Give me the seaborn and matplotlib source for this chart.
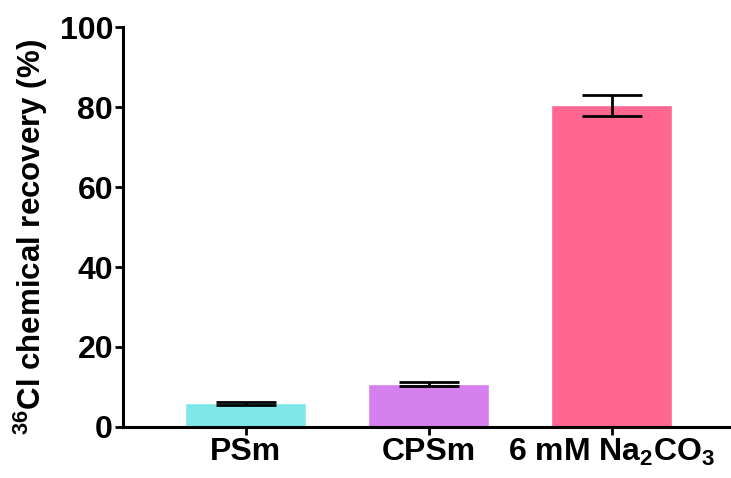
import numpy as np
import pandas as pd
import matplotlib
matplotlib.use('Agg')
import matplotlib.pyplot as plt
import seaborn as sns

categories = ['PSm', 'CPSm', r'6 mM Na$_2$CO$_3$']
recovery = [5.9, 10.75, 80.4]
err = [0.4, 0.5, 2.7]
colors = ['#7EE8E8', '#D580EE', '#FF6690']
yticks = [0, 20, 40, 60, 80, 100]

sns.set_style('ticks')
plt.rcParams['font.family'] = ['Liberation Sans', 'DejaVu Sans']
plt.rcParams['font.weight'] = 'bold'
plt.rcParams['mathtext.fontset'] = 'custom'
plt.rcParams['mathtext.rm'] = 'Liberation Sans:bold'
plt.rcParams['mathtext.default'] = 'rm'
for k in ['text.color', 'axes.labelcolor', 'xtick.color', 'ytick.color', 'axes.edgecolor']:
    plt.rcParams[k] = 'black'

df = pd.DataFrame({'cat': categories, 'val': recovery})

fig = plt.figure(figsize=(7.31, 4.78), dpi=100)
ax = fig.add_axes([0.168, 0.1067, 0.832, 0.8368])

sns.barplot(data=df, x='cat', y='val', hue='cat', palette=colors,
            width=0.66, saturation=1, legend=False, ax=ax)
ax.errorbar(np.arange(len(categories)), recovery, yerr=err, fmt='none',
            ecolor='black', elinewidth=2, capsize=21.6, capthick=2, zorder=5)

ax.set_xlim(-0.67, 2.65)
ax.set_ylim(0, 100)
ax.set_yticks(yticks)
ax.set_xlabel('')
ax.set_ylabel(r'$^{36}$Cl chemical recovery (%)', fontsize=22.5, fontweight='bold')
ax.yaxis.set_label_coords(-0.12, 0.475)
ax.tick_params(axis='both', width=2, length=6, color='black')
ax.tick_params(axis='y', labelsize=23, pad=1)
ax.tick_params(axis='x', labelsize=23, pad=1)
for lab in ax.get_xticklabels() + ax.get_yticklabels():
    lab.set_fontweight('bold')

sns.despine(ax=ax)
ax.spines['left'].set_linewidth(2.2)
ax.spines['bottom'].set_linewidth(2.2)

plt.savefig('out.png', dpi=100)
plt.close()
